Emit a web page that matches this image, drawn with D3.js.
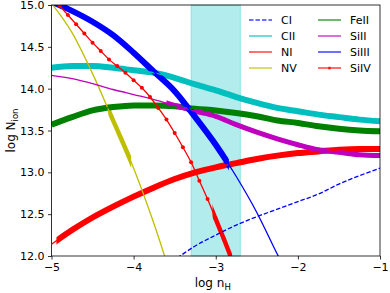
<!DOCTYPE html>
<html>
<head>
<meta charset="utf-8">
<script src="https://cdn.jsdelivr.net/npm/d3@7"></script>
<style>
  body { margin: 0; background: #fff; }
  text { font-family: "DejaVu Sans", sans-serif; fill: #000; }
</style>
</head>
<body>
<svg id="chart"></svg>
<script>
// density grid (log nH) shared by most ions
const nH = [-5, -4.75, -4.5, -4.25, -4, -3.75, -3.5, -3.25, -3, -2.75, -2.5, -2.25, -2, -1.75, -1.5, -1.25, -1]

// column densities (log N)
const CI    = [null, null, null, null, null, 11.83, 11.96, 12.12, 12.25, 12.37, 12.47, 12.56, 12.65, 12.74, 12.86, 12.96, 13.05]
const CII   = [14.25, 14.27, 14.27, 14.25, 14.22, 14.19, 14.13, 14.05, 13.98, 13.90, 13.83, 13.77, 13.73, 13.69, 13.66, 13.63, 13.61]
const NI    = [12.14, 12.31, 12.46, 12.59, 12.71, 12.82, 12.92, 13.00, 13.06, 13.11, 13.16, 13.20, 13.23, 13.25, 13.27, 13.28, 13.28]
const NV    = [15.02, 14.67, 14.18, 13.62, 13.05, 12.38, 11.62, null, null, null, null, null, null, null, null, null, null]
const FeII  = [13.57, 13.66, 13.74, 13.78, 13.80, 13.80, 13.79, 13.76, 13.74, 13.71, 13.67, 13.62, 13.59, 13.55, 13.52, 13.50, 13.49]
const SiII  = [14.16, 14.12, 14.06, 13.99, 13.93, 13.87, 13.80, 13.73, 13.67, 13.57, 13.48, 13.40, 13.33, 13.27, 13.24, 13.21, 13.20]
const SiIII = [15.04, 14.93, 14.80, 14.64, 14.43, 14.20, 13.97, 13.66, 13.33, 12.95, 12.52, 12.02, 11.55, null, null, null, null]

// SiIV has its own finer grid (the dots)
const nH_SiIV = [-5, -4.9, -4.8, -4.7, -4.6, -4.5, -4.4, -4.3, -4.2, -4.1, -4, -3.9, -3.8, -3.7, -3.6, -3.5, -3.4, -3.3, -3.2, -3.1, -3, -2.9, -2.8]
const SiIV  = [15.10, 14.99, 14.88, 14.77, 14.66, 14.55, 14.45, 14.35, 14.27, 14.19, 14.10, 14.01, 13.90, 13.77, 13.63, 13.47, 13.30, 13.12, 12.90, 12.68, 12.44, 12.20, 11.95]

// ions, legend order, and the nH range where each is constrained (thick part)
const ions     = ["CI", "CII", "NI", "NV", "FeII", "SiII", "SiIII", "SiIV"]
const thickLo  = [null, -5, -4.94, -4.31, -5, -3.6, -5, -3.04]
const thickHi  = [null, -1, -1, -4.03, -1, -1, -2.84, -2.8]

// allowed density band
const band = [-3.3, -2.7]

const xTicks = [-5, -4, -3, -2, -1]
const yTicks = [12, 12.5, 13, 13.5, 14, 14.5, 15]

const width = 390
const height = 293
const margin = { left: 51.5, right: 10, top: 5, bottom: 37 }

const colors = {
    CI: "#0000ff", CII: "#00bfbf", NI: "#ff0000", NV: "#bfbf00",
    FeII: "#008000", SiII: "#bf00bf", SiIII: "#0000ff", SiIV: "#ff0000"
}
const thickW = { CII: 6, NI: 6, NV: 4.5, FeII: 6, SiII: 5, SiIII: 6, SiIV: 4.5 }

const series = {
    CI: nH.map((v, i) => [v, CI[i]]),
    CII: nH.map((v, i) => [v, CII[i]]),
    NI: nH.map((v, i) => [v, NI[i]]),
    NV: nH.map((v, i) => [v, NV[i]]),
    FeII: nH.map((v, i) => [v, FeII[i]]),
    SiII: nH.map((v, i) => [v, SiII[i]]),
    SiIII: nH.map((v, i) => [v, SiIII[i]]),
    SiIV: nH_SiIV.map((v, i) => [v, SiIV[i]])
}

const svg = d3.select('svg#chart').attr('width', width).attr('height', height)

const x = d3.scaleLinear().domain([-5, -1]).range([margin.left, width - margin.right])
const y = d3.scaleLinear().domain([12, 15]).range([height - margin.bottom, margin.top])

const defs = svg.append("defs")
defs.append("clipPath").attr("id", "plot-clip")
    .append("rect")
    .attr("x", x(-5)).attr("y", y(15))
    .attr("width", x(-1) - x(-5)).attr("height", y(12) - y(15))

// shaded band
svg.append("rect")
    .attr("x", x(band[0])).attr("y", y(15))
    .attr("width", x(band[1]) - x(band[0])).attr("height", y(12) - y(15))
    .attr("fill", "#00bfbf").attr("fill-opacity", 0.3)
    .attr("stroke", "#00bfbf").attr("stroke-opacity", 0.3)

const line = d3.line()
    .defined(d => d[1] !== null)
    .x(d => x(d[0])).y(d => y(d[1]))
    .curve(d3.curveMonotoneX)

const plot = svg.append("g").attr("clip-path", "url(#plot-clip)")

// thick (constrained) segments first
ions.forEach((ion, i) => {
    if (thickLo[i] === null) return
    defs.append("clipPath").attr("id", "thick-" + ion)
        .append("rect")
        .attr("x", x(thickLo[i])).attr("y", 0)
        .attr("width", x(thickHi[i]) - x(thickLo[i])).attr("height", height)
    plot.append("g").attr("clip-path", "url(#thick-" + ion + ")")
        .append("path")
        .attr("d", line(series[ion]))
        .attr("fill", "none")
        .attr("stroke", colors[ion])
        .attr("stroke-width", thickW[ion])
})

// thin full-range lines on top
ions.forEach(ion => {
    plot.append("path")
        .attr("d", line(series[ion]))
        .attr("fill", "none")
        .attr("stroke", colors[ion])
        .attr("stroke-width", 1.3)
        .attr("stroke-dasharray", ion === "CI" ? "4.5,2" : null)
})

plot.selectAll("circle.siiv").data(series.SiIV)
    .enter().append("circle")
    .attr("class", "siiv")
    .attr("cx", d => x(d[0])).attr("cy", d => y(d[1]))
    .attr("r", 2)
    .attr("fill", colors.SiIV)

// axes
const xAxis = svg.append("g")
    .attr("transform", "translate(0," + y(12) + ")")
    .call(d3.axisBottom(x).tickValues(xTicks).tickSize(3.5).tickPadding(3.5).tickFormat(d3.format("d")))
const yAxis = svg.append("g")
    .attr("transform", "translate(" + x(-5) + ",0)")
    .call(d3.axisLeft(y).tickValues(yTicks).tickSize(3.5).tickPadding(3.5).tickFormat(d3.format(".1f")))
svg.selectAll(".domain").remove()
svg.selectAll(".tick text").attr("font-size", 11).attr("font-family", "DejaVu Sans").attr("fill", "#000")
svg.selectAll(".tick line").attr("stroke", "#000").attr("stroke-width", 0.8)

svg.append("rect")
    .attr("x", x(-5)).attr("y", y(15))
    .attr("width", x(-1) - x(-5)).attr("height", y(12) - y(15))
    .attr("fill", "none").attr("stroke", "#000").attr("stroke-width", 0.8)

// axis labels
const xLabel = svg.append("text")
    .attr("x", (x(-5) + x(-1)) / 2 - 3).attr("y", 287)
    .attr("text-anchor", "middle").attr("font-size", 12)
xLabel.append("tspan").text("log n")
xLabel.append("tspan").attr("font-size", 8.5).attr("dy", 2.5).text("H")

const yLabel = svg.append("text")
    .attr("transform", "translate(15," + ((y(12) + y(15)) / 2) + ") rotate(-90)")
    .attr("text-anchor", "middle").attr("font-size", 12)
yLabel.append("tspan").text("log N")
yLabel.append("tspan").attr("font-size", 8.5).attr("dy", 2.5).text("ion")

// legend, two columns
const legX = [249, 318]
const legY = [20, 36, 52, 68]
const legend = svg.append("g")
ions.forEach((ion, i) => {
    const cx = legX[Math.floor(i / 4)]
    const cy = legY[i % 4]
    legend.append("line")
        .attr("x1", cx).attr("x2", cx + 23).attr("y1", cy).attr("y2", cy)
        .attr("stroke", colors[ion]).attr("stroke-opacity", 0.75)
        .attr("stroke-width", 1.5)
        .attr("stroke-dasharray", ion === "CI" ? "4.5,2" : null)
    if (ion === "SiIV") {
        legend.append("circle").attr("cx", cx + 11.5).attr("cy", cy).attr("r", 1.6)
            .attr("fill", colors[ion]).attr("fill-opacity", 0.75)
    }
    legend.append("text")
        .attr("x", cx + 32).attr("y", cy + 4)
        .attr("font-size", 11)
        .text(ion)
})
</script>
</body>
</html>
